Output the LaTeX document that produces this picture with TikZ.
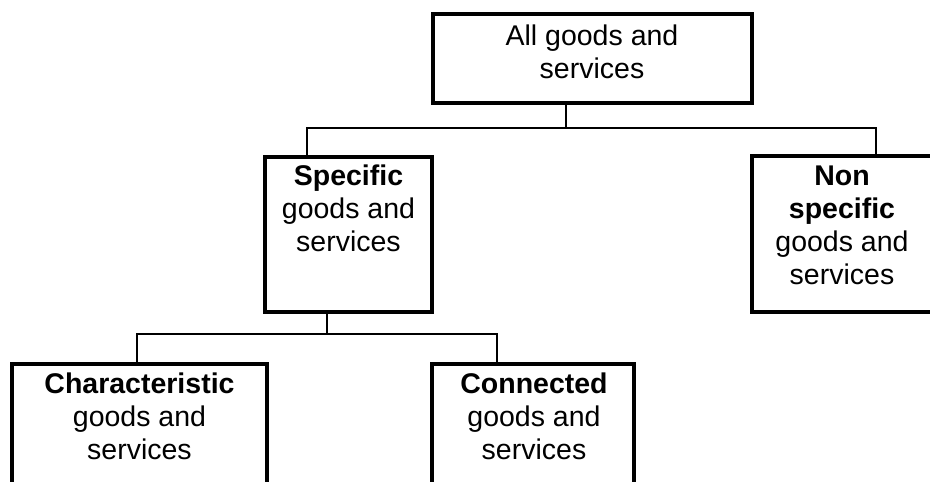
\documentclass[tikz,border=0pt]{standalone}
\usepackage{fontspec}
\setmainfont{Liberation Sans}
\begin{document}
\begin{tikzpicture}[x=1pt,y=-1pt,
  box/.style={draw=black, line width=3.4pt, rectangle, inner sep=0pt},
  lbl/.style={align=center, inner sep=0pt, anchor=base, font=\fontsize{28.5}{33}\selectfont},
  conn/.style={draw=black, line width=2.8pt}]
\useasboundingbox (0,0) rectangle (930,482);
% boxes
\node[box, minimum width=319pt, minimum height=89pt] (top) at (592.5,58.5) {};
\node[box, minimum width=167pt, minimum height=155pt] (spec) at (348.5,234.5) {};
\node[box, minimum width=180pt, minimum height=156pt] (nons) at (842,234) {};
\node[box, minimum width=255pt, minimum height=140pt] (char) at (139.5,434) {};
\node[box, minimum width=202pt, minimum height=140pt] (cnct) at (533,434) {};
% labels (base anchor = baseline of last line)
\node[lbl] (toplbl) at (592,78) {All goods and\\services};
\node[lbl] (speclbl) at (348.5,251) {\textbf{Specific}\\goods and\\services};
\node[lbl] (nonslbl) at (842,284) {\textbf{Non}\\\textbf{specific}\\goods and\\services};
\node[lbl] (charlbl) at (139.5,459) {\textbf{Characteristic}\\goods and\\services};
\node[lbl] (cnctlbl) at (534,459) {\textbf{Connected}\\goods and\\services};
% junctions
\coordinate (j1) at (566,128);
\coordinate (hl) at (307,128);
\coordinate (hr) at (876,128);
\coordinate (j2) at (327,334);
\coordinate (h2l) at (137,334);
\coordinate (h2r) at (497,334);
% connectors
\draw[conn] (top.south -| j1) -- (j1);
\draw[conn] (spec.north -| hl) -- (hl) -- (hr) -- (nons.north -| hr);
\draw[conn] (spec.south -| j2) -- (j2);
\draw[conn] (char.north -| h2l) -- (h2l) -- (h2r) -- (cnct.north -| h2r);
\end{tikzpicture}
\end{document}
